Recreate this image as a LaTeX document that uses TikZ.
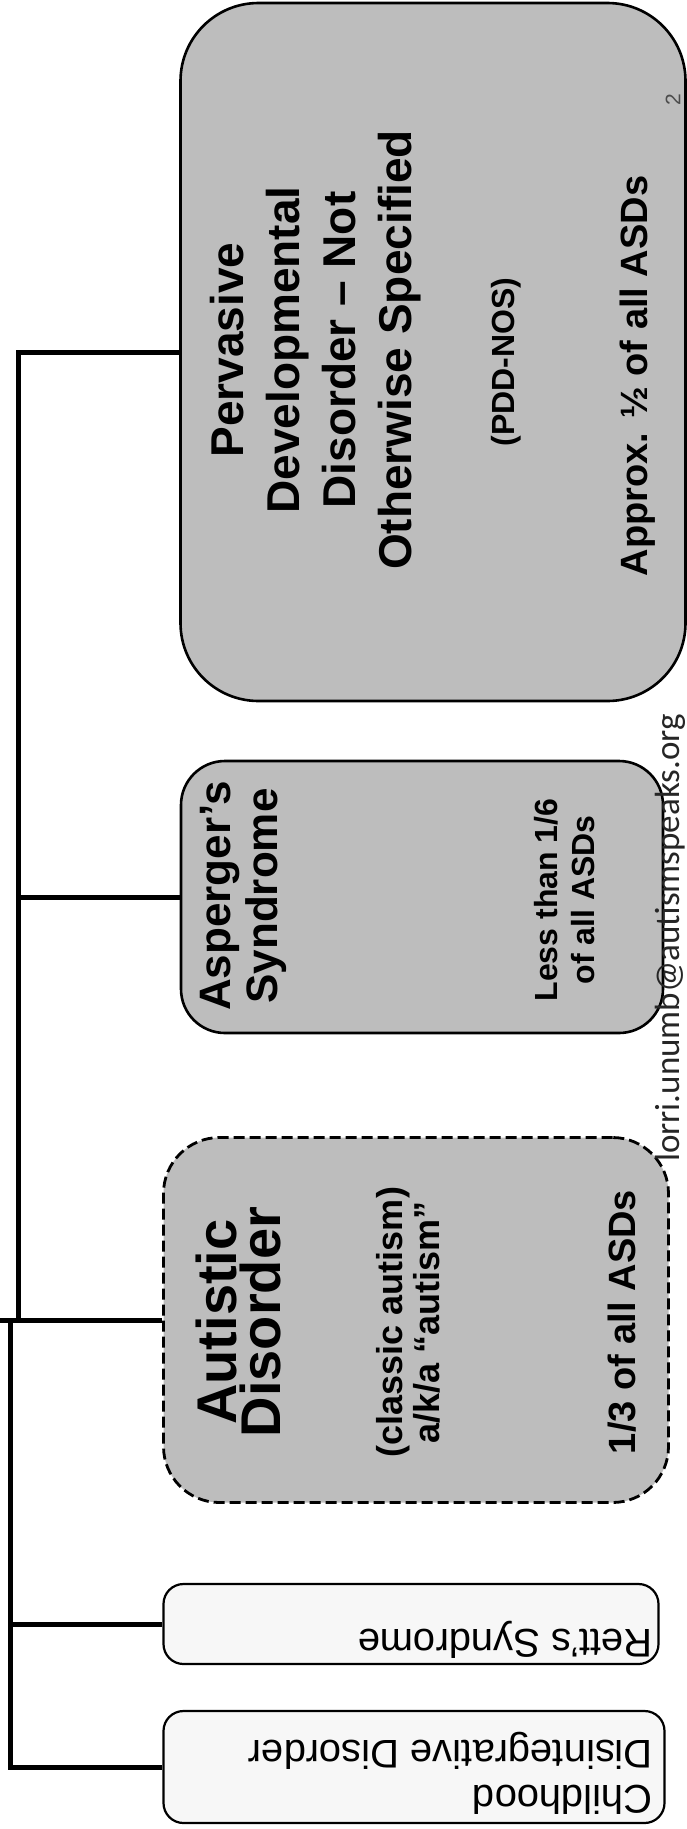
\documentclass[tikz,border=0pt]{standalone}
\usepackage{fontspec}
\setmainfont{Liberation Sans}
\newfontfamily\mailfont{Carlito}
\begin{document}
\begin{tikzpicture}[x=1pt,y=-1pt,
  conn/.style={line width=5pt},
  bigbox/.style={draw=black, line width=2.6pt, fill=black!26, rectangle, inner sep=0pt},
  dashbox/.style={bigbox, line width=2.8pt, dash pattern=on 11pt off 5pt},
  smallbox/.style={draw=black, line width=2.2pt, fill=black!3, rectangle, inner sep=0pt, rounded corners=20pt},
  vtext/.style={rotate=90, align=center, inner sep=0pt, font=\bfseries},
  utext/.style={rotate=180, align=left, inner sep=0pt}
]
\useasboundingbox (0,0) rectangle (687,1829);

% boxes
\node[bigbox, rounded corners=78pt, minimum width=505pt, minimum height=698pt] (pdd) at (433,352) {};
\node[bigbox, rounded corners=44pt, minimum width=482pt, minimum height=272pt] (asp) at (422,897) {};
\node[dashbox, rounded corners=56pt, minimum width=505pt, minimum height=365pt] (aut) at (416,1320) {};
\node[smallbox, minimum width=495pt, minimum height=80pt] (rett) at (411,1624) {};
\node[smallbox, minimum width=501pt, minimum height=112pt] (cdd) at (414,1767) {};

% connector junctions
\coordinate (ja) at (18,1320);
\coordinate (jb) at (10,1320);
\coordinate (jl) at (0,1320);

\draw[conn] (pdd.west) -- (pdd.west -| ja) -- (ja);
\draw[conn] (asp.west) -- (asp.west -| ja);
\draw[conn] (aut.west) -- (jl);
\draw[conn] (rett.west) -- (rett.west -| jb);
\draw[conn] (cdd.west) -- (cdd.west -| jb) -- (jb);

% PDD texts
\node[vtext, font=\bfseries\fontsize{46}{56}\selectfont] (pddt) at (316,350)
  {Pervasive\\Developmental\\Disorder \textendash{} Not\\Otherwise Specified};
\node[vtext, font=\bfseries\fontsize{32}{38}\selectfont] (pddn) at (506,362) {(PDD-NOS)};
\node[vtext, font=\bfseries\fontsize{38}{44}\selectfont] (pdda) at (638,376) {Approx. ½ of all ASDs};
\node[rotate=90, inner sep=0pt, text=black!70, font=\fontsize{21}{25}\selectfont] (pnum) at (673,100) {2};

% Asperger texts
\node[vtext, font=\bfseries\fontsize{44}{47}\selectfont] (aspt) at (243,896) {Asperger’s\\Syndrome};
\node[vtext, font=\bfseries\fontsize{32}{37}\selectfont] (aspn) at (565,900) {Less than 1/6\\of all ASDs};

% email
\node[rotate=90, anchor=base, inner sep=0pt, text=black!85, font=\mailfont\fontsize{35}{40}\selectfont] (mail) at (679,938) {lorri.unumb@autismspeaks.org};

% Autistic texts
\node[vtext, font=\bfseries\fontsize{56}{44}\selectfont] (autt) at (238,1322) {Autistic\\Disorder};
\node[vtext, font=\bfseries\fontsize{36}{37}\selectfont] (autc) at (408,1322) {(classic autism)\\a/k/a “autism”};
\node[vtext, font=\bfseries\fontsize{38}{44}\selectfont] (autn) at (622,1322) {1/3 of all ASDs};

% Rett and Childhood texts
\node[utext, anchor=west, font=\fontsize{40}{45}\selectfont] (rettt) at (653,1640) {Rett’s Syndrome};
\node[utext, anchor=west, font=\fontsize{40}{45}\selectfont] (cddt) at (653,1773) {Childhood\\Disintegrative Disorder};
\end{tikzpicture}
\end{document}
